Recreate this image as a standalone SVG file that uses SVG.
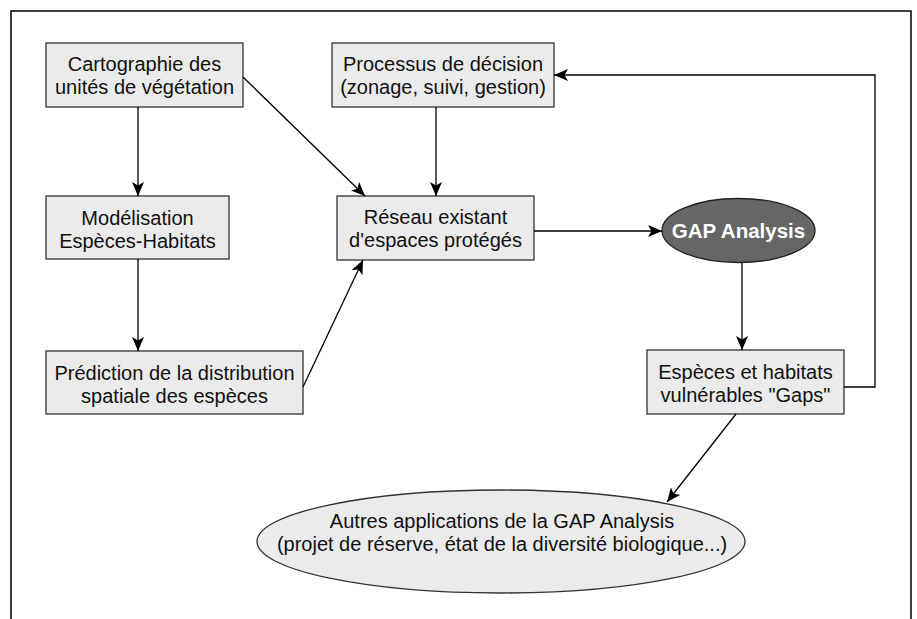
<svg xmlns="http://www.w3.org/2000/svg" width="917" height="619" viewBox="0 0 917 619">
<defs>
<marker id="arr" markerUnits="userSpaceOnUse" markerWidth="14" markerHeight="12" viewBox="0 0 14 12" refX="14" refY="6" orient="auto">
<path d="M0,0 L14,6 L0,12 L3.5,6 z" fill="#000"/>
</marker>
<style>
.box{fill:#ebebeb;stroke:#333;stroke-width:1.3}
.t{font-family:"Liberation Sans",Arial,sans-serif;font-size:20px;fill:#111;text-anchor:middle}
.c{fill:none;stroke:#000;stroke-width:1.3}
</style>
</defs>
<rect width="917" height="619" fill="#fff"/>
<path d="M11,619 V11 H911 V619" fill="none" stroke="#000" stroke-width="1.5"/>

<g id="cartographie">
<rect class="box" x="46" y="43" width="197" height="64"/>
<text class="t" x="144.5" y="71">Cartographie des</text>
<text class="t" x="144.5" y="94">unités de végétation</text>
</g>
<g id="modelisation">
<rect class="box" x="46" y="196" width="183" height="63"/>
<text class="t" x="137.5" y="225">Modélisation</text>
<text class="t" x="137.5" y="248">Espèces-Habitats</text>
</g>
<g id="prediction">
<rect class="box" x="46" y="351" width="257" height="63"/>
<text class="t" x="174.5" y="380">Prédiction de la distribution</text>
<text class="t" x="174.5" y="403">spatiale des espèces</text>
</g>
<g id="processus">
<rect class="box" x="332" y="43" width="222" height="64"/>
<text class="t" x="443" y="71">Processus de décision</text>
<text class="t" x="443" y="94">(zonage, suivi, gestion)</text>
</g>
<g id="reseau">
<rect class="box" x="337" y="196" width="197" height="64"/>
<text class="t" x="435.5" y="224">Réseau existant</text>
<text class="t" x="435.5" y="247">d'espaces protégés</text>
</g>
<g id="gap">
<ellipse cx="738.5" cy="230.5" rx="76.5" ry="32" fill="#666" stroke="#222" stroke-width="1.3"/>
<text class="t" x="738.5" y="238" style="fill:#fff;font-weight:bold;font-size:20.5px">GAP Analysis</text>
</g>
<g id="especes">
<rect class="box" x="647" y="350" width="197" height="64"/>
<text class="t" x="745.5" y="379">Espèces et habitats</text>
<text class="t" x="745.5" y="402">vulnérables "Gaps"</text>
</g>
<g id="autres">
<ellipse class="box" cx="501" cy="541.5" rx="244" ry="51.5"/>
<text class="t" x="502" y="528">Autres applications de la GAP Analysis</text>
<text class="t" x="502" y="551">(projet de réserve, état de la diversité biologique...)</text>
</g>

<g id="connectors">
<path class="c" d="M138,107 V196" marker-end="url(#arr)"/>
<path class="c" d="M138,259 V351" marker-end="url(#arr)"/>
<path class="c" d="M243,77 L365,196" marker-end="url(#arr)"/>
<path class="c" d="M436,107 V196" marker-end="url(#arr)"/>
<path class="c" d="M303,387 L363,260" marker-end="url(#arr)"/>
<path class="c" d="M534,231 H662" marker-end="url(#arr)"/>
<path class="c" d="M742,263 V350" marker-end="url(#arr)"/>
<path class="c" d="M844,387 H875 V75 H554" marker-end="url(#arr)"/>
<path class="c" d="M736,414 L667,502" marker-end="url(#arr)"/>
</g>
</svg>
